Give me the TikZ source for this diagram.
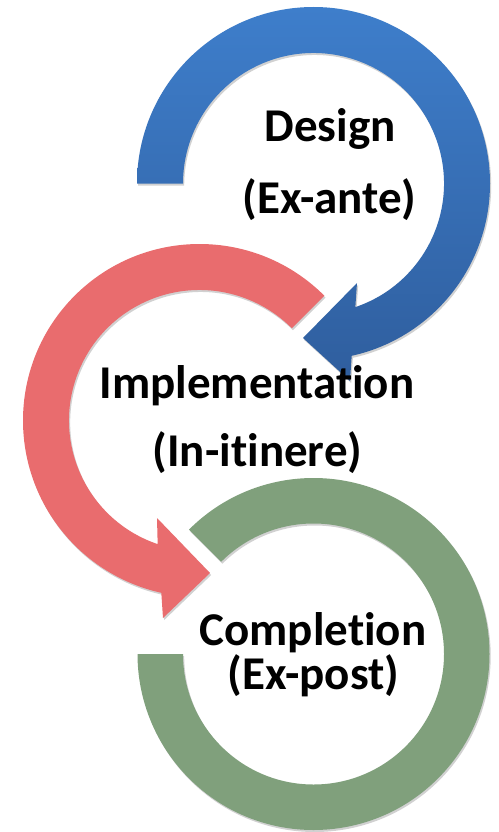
\documentclass[tikz,border=0pt]{standalone}
\usepackage{fontspec}
\setmainfont{Carlito}[Ligatures=NoCommon]
\usetikzlibrary{shadows}
\definecolor{bluetop}{RGB}{62,126,203}
\definecolor{bluebot}{RGB}{47,94,158}
\definecolor{redarc}{RGB}{233,108,110}
\definecolor{greenarc}{RGB}{128,160,124}
\tikzset{
  ringshadow/.style={drop shadow={shadow xshift=1.2pt,shadow yshift=-2pt,fill=black,opacity=0.18}},
  label/.style={anchor=base,inner sep=0pt,font=\fontsize{47}{55}\selectfont\bfseries,text=black}
}
\begin{document}
\begin{tikzpicture}[x=1pt,y=1pt]
\useasboundingbox (0,0) rectangle (498,-832);
\fill[white] (0,0) rectangle (498,-832);
\coordinate (cb) at (313.5,-183.5);
\coordinate (cr) at (199.5,-420.5);
\coordinate (cg) at (313.5,-654);
% blue circular arrow
\begin{scope}[shift={(cb)}]
\path[ringshadow,top color=bluetop,bottom color=bluebot]
  (180:176.5) arc[start angle=180,end angle=-77.5,radius=176.5]
  -- (36.5,-197.5) -- (-10.5,-154.5) -- (43.5,-99.5)
  -- (-71.3:130.5) arc[start angle=-71.3,end angle=180,radius=130.5] -- cycle;
\end{scope}
% red circular arrow
\begin{scope}[shift={(cr)}]
\path[ringshadow,fill=redarc]
  (45:176.5) arc[start angle=45,end angle=257.5,radius=176.5]
  -- (-36.5,-197.5) -- (10.5,-152.5) -- (-42.5,-97.5)
  -- (251.3:130.5) arc[start angle=251.3,end angle=45,radius=130.5] -- cycle;
\end{scope}
% green ring
\begin{scope}[shift={(cg)}]
\path[ringshadow,fill=greenarc]
  (135:176) arc[start angle=135,end angle=-180,radius=176]
  -- (-180:130.5) arc[start angle=-180,end angle=135,radius=130.5] -- cycle;
\end{scope}
% labels
\node[label] (d1) at (330,-142) {Design};
\node[label] (d2) at (329.5,-213) {(Ex-ante)};
\node[label] (i1) at (257,-398) {Implementation};
\node[label] (i2) at (257.5,-466) {(In-itinere)};
\node[label] (c1) at (313,-645) {Completion};
\node[label] (c2) at (313.5,-689) {(Ex-post)};
\end{tikzpicture}
\end{document}
